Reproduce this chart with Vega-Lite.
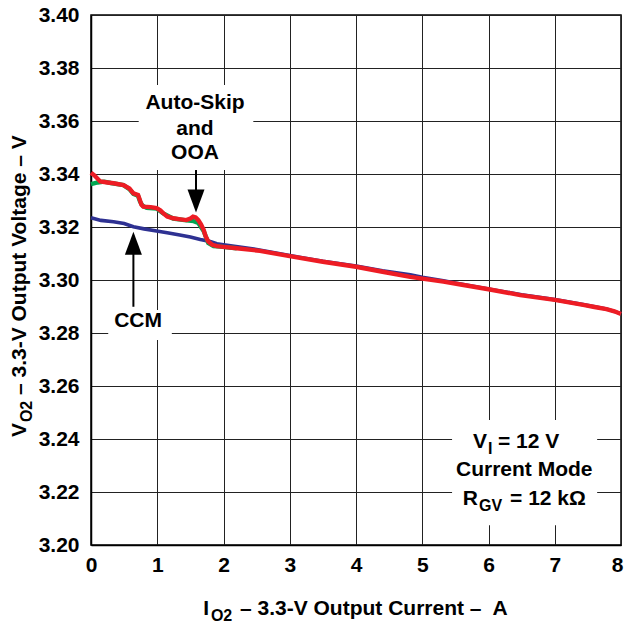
{
  "$schema": "https://vega.github.io/schema/vega-lite/v6.json",
  "width": 530,
  "height": 530,
  "autosize": {"type": "none"},
  "padding": {"left": 91, "top": 15, "right": 4, "bottom": 87},
  "background": "white",
  "config": {
    "view": {"stroke": "black", "strokeWidth": 1.5},
    "font": "Liberation Sans",
    "text": {"font": "Liberation Sans", "fontWeight": "bold", "fontSize": 21, "color": "black"}
  },
  "datasets": {
    "curves": [
      {"s": "CCM", "x": 0, "y": 3.3235},
      {"s": "CCM", "x": 0.15, "y": 3.3225},
      {"s": "CCM", "x": 0.34, "y": 3.322},
      {"s": "CCM", "x": 0.5, "y": 3.3213},
      {"s": "CCM", "x": 0.64, "y": 3.3201},
      {"s": "CCM", "x": 0.8, "y": 3.3193},
      {"s": "CCM", "x": 0.99, "y": 3.3185},
      {"s": "CCM", "x": 1.15, "y": 3.3178},
      {"s": "CCM", "x": 1.34, "y": 3.317},
      {"s": "CCM", "x": 1.5, "y": 3.3162},
      {"s": "CCM", "x": 1.65, "y": 3.3153},
      {"s": "CCM", "x": 1.8, "y": 3.3145},
      {"s": "CCM", "x": 1.9, "y": 3.3137},
      {"s": "CCM", "x": 2.0, "y": 3.3133},
      {"s": "CCM", "x": 2.5, "y": 3.3115},
      {"s": "CCM", "x": 3.0, "y": 3.3092},
      {"s": "CCM", "x": 3.5, "y": 3.3071},
      {"s": "CCM", "x": 4.0, "y": 3.3053},
      {"s": "CCM", "x": 4.4, "y": 3.3035},
      {"s": "CCM", "x": 4.82, "y": 3.302},
      {"s": "CCM", "x": 5.0, "y": 3.301},
      {"s": "CCM", "x": 5.32, "y": 3.2997},
      {"s": "CCM", "x": 5.6, "y": 3.2984},
      {"s": "CCM", "x": 6.0, "y": 3.2966},
      {"s": "CCM", "x": 6.5, "y": 3.2944},
      {"s": "CCM", "x": 7.0, "y": 3.2926},
      {"s": "CCM", "x": 7.43, "y": 3.2907},
      {"s": "CCM", "x": 7.78, "y": 3.2891},
      {"s": "CCM", "x": 8.0, "y": 3.2873},
      {"s": "Auto-Skip", "x": 0, "y": 3.3362},
      {"s": "Auto-Skip", "x": 0.1, "y": 3.3368},
      {"s": "Auto-Skip", "x": 0.2, "y": 3.3371},
      {"s": "Auto-Skip", "x": 0.3, "y": 3.3366},
      {"s": "Auto-Skip", "x": 0.49, "y": 3.3358},
      {"s": "Auto-Skip", "x": 0.58, "y": 3.3343},
      {"s": "Auto-Skip", "x": 0.64, "y": 3.3325},
      {"s": "Auto-Skip", "x": 0.71, "y": 3.3318},
      {"s": "Auto-Skip", "x": 0.74, "y": 3.3296},
      {"s": "Auto-Skip", "x": 0.78, "y": 3.328},
      {"s": "Auto-Skip", "x": 0.84, "y": 3.3272},
      {"s": "Auto-Skip", "x": 0.99, "y": 3.327},
      {"s": "Auto-Skip", "x": 1.09, "y": 3.3251},
      {"s": "Auto-Skip", "x": 1.24, "y": 3.3232},
      {"s": "Auto-Skip", "x": 1.44, "y": 3.3225},
      {"s": "Auto-Skip", "x": 1.55, "y": 3.3222},
      {"s": "Auto-Skip", "x": 1.62, "y": 3.3215},
      {"s": "Auto-Skip", "x": 1.7, "y": 3.3185},
      {"s": "Auto-Skip", "x": 1.77, "y": 3.314},
      {"s": "Auto-Skip", "x": 1.85, "y": 3.3128},
      {"s": "Auto-Skip", "x": 1.95, "y": 3.3126},
      {"s": "Auto-Skip", "x": 2.2, "y": 3.312},
      {"s": "OOA", "x": 0, "y": 3.3405},
      {"s": "OOA", "x": 0.05, "y": 3.3395},
      {"s": "OOA", "x": 0.14, "y": 3.3372},
      {"s": "OOA", "x": 0.25, "y": 3.3368},
      {"s": "OOA", "x": 0.34, "y": 3.3365},
      {"s": "OOA", "x": 0.49, "y": 3.3358},
      {"s": "OOA", "x": 0.58, "y": 3.3345},
      {"s": "OOA", "x": 0.64, "y": 3.3327},
      {"s": "OOA", "x": 0.71, "y": 3.3321},
      {"s": "OOA", "x": 0.74, "y": 3.33},
      {"s": "OOA", "x": 0.76, "y": 3.3285},
      {"s": "OOA", "x": 0.79, "y": 3.3277},
      {"s": "OOA", "x": 0.9, "y": 3.3275},
      {"s": "OOA", "x": 0.99, "y": 3.3271},
      {"s": "OOA", "x": 1.05, "y": 3.3262},
      {"s": "OOA", "x": 1.09, "y": 3.3252},
      {"s": "OOA", "x": 1.15, "y": 3.324},
      {"s": "OOA", "x": 1.24, "y": 3.3233},
      {"s": "OOA", "x": 1.35, "y": 3.3229},
      {"s": "OOA", "x": 1.44, "y": 3.3226},
      {"s": "OOA", "x": 1.5, "y": 3.3232},
      {"s": "OOA", "x": 1.54, "y": 3.3239},
      {"s": "OOA", "x": 1.58, "y": 3.3236},
      {"s": "OOA", "x": 1.62, "y": 3.3226},
      {"s": "OOA", "x": 1.66, "y": 3.321},
      {"s": "OOA", "x": 1.7, "y": 3.3189},
      {"s": "OOA", "x": 1.73, "y": 3.3165},
      {"s": "OOA", "x": 1.77, "y": 3.3145},
      {"s": "OOA", "x": 1.83, "y": 3.3133},
      {"s": "OOA", "x": 1.9, "y": 3.3128},
      {"s": "OOA", "x": 2.0, "y": 3.3125},
      {"s": "OOA", "x": 2.2, "y": 3.312},
      {"s": "OOA", "x": 2.55, "y": 3.311},
      {"s": "OOA", "x": 3.0, "y": 3.309},
      {"s": "OOA", "x": 3.5, "y": 3.3069},
      {"s": "OOA", "x": 4.0, "y": 3.305},
      {"s": "OOA", "x": 4.4, "y": 3.3031},
      {"s": "OOA", "x": 4.82, "y": 3.3012},
      {"s": "OOA", "x": 5.0, "y": 3.3005},
      {"s": "OOA", "x": 5.32, "y": 3.2994},
      {"s": "OOA", "x": 5.6, "y": 3.2982},
      {"s": "OOA", "x": 6.0, "y": 3.2965},
      {"s": "OOA", "x": 6.48, "y": 3.2943},
      {"s": "OOA", "x": 7.0, "y": 3.2925},
      {"s": "OOA", "x": 7.43, "y": 3.2906},
      {"s": "OOA", "x": 7.6, "y": 3.2898},
      {"s": "OOA", "x": 7.78, "y": 3.289},
      {"s": "OOA", "x": 7.9, "y": 3.2882},
      {"s": "OOA", "x": 8.0, "y": 3.2872}
    ],
    "boxes": [
      {"x": 0.72, "x2": 2.45, "y": 3.3736, "y2": 3.3415},
      {"x": 0.26, "x2": 1.22, "y": 3.2887, "y2": 3.2774},
      {"x": 5.45, "x2": 7.64, "y": 3.2472, "y2": 3.2075}
    ],
    "shafts": [
      {"x": 1.585, "y": 3.3415, "y2": 3.331},
      {"x": 0.64, "y": 3.3139, "y2": 3.2899}
    ],
    "heads": [
      {"x": 1.585, "y": 3.3298, "dir": "down"},
      {"x": 0.64, "y": 3.3139, "dir": "up"}
    ],
    "centered": [
      {"x": 1.57, "y": 3.3668, "t": "Auto-Skip"},
      {"x": 1.57, "y": 3.357, "t": "and"},
      {"x": 1.57, "y": 3.3479, "t": "OOA"},
      {"x": 0.71, "y": 3.2845, "t": "CCM"},
      {"x": 6.54, "y": 3.2283, "t": "Current Mode"}
    ],
    "mainletters": [
      {"x": 5.977, "y": 3.2389, "t": "V"},
      {"x": 5.842, "y": 3.2174, "t": "R"},
      {"x": 1.781, "y": 3.1757, "t": "I"}
    ],
    "subs": [
      {"x": 5.977, "y": 3.2389, "t": "I"},
      {"x": 5.842, "y": 3.2174, "t": "GV"},
      {"x": 1.795, "y": 3.1757, "t": "O2"}
    ],
    "rests": [
      {"x": 6.143, "y": 3.2389, "t": "= 12 V"},
      {"x": 6.325, "y": 3.2174, "t": "= 12 kΩ"},
      {"x": 2.249, "y": 3.1757, "t": "– 3.3-V Output Current –\u00a0 A"}
    ],
    "ymain": [{"x": -1.079, "y": 3.246, "t": "V"}],
    "ysub": [{"x": -1.079, "y": 3.246, "t": "O2"}],
    "yrest": [{"x": -1.079, "y": 3.2566, "t": "– 3.3-V Output Voltage – V"}]
  },
  "encoding": {
    "x": {
      "field": "x", "type": "quantitative",
      "scale": {"domain": [0, 8], "nice": false, "zero": false},
      "axis": {
        "title": null, "values": [0, 1, 2, 3, 4, 5, 6, 7, 8], "format": "d",
        "ticks": false, "labelPadding": 9, "labelFontSize": 21, "labelFontWeight": "bold",
        "labelFont": "Liberation Sans", "labelColor": "black",
        "labelOffset": {"condition": {"test": "datum.value == 8", "value": -4}, "value": 0},
        "domainColor": "black", "domainWidth": 1.5,
        "grid": true, "gridColor": "#222222", "gridWidth": 1, "labelFlush": false
      }
    },
    "y": {
      "field": "y", "type": "quantitative",
      "scale": {"domain": [3.2, 3.4], "nice": false, "zero": false},
      "axis": {
        "title": null, "values": [3.2, 3.22, 3.24, 3.26, 3.28, 3.3, 3.32, 3.34, 3.36, 3.38, 3.4], "format": ".2f",
        "ticks": false, "labelPadding": 12, "labelFontSize": 21, "labelFontWeight": "bold",
        "labelFont": "Liberation Sans", "labelColor": "black",
        "domainColor": "black", "domainWidth": 1.5,
        "grid": true, "gridColor": "#222222", "gridWidth": 1, "labelFlush": false
      }
    }
  },
  "layer": [
    {
      "data": {"name": "boxes"},
      "mark": {"type": "rect", "fill": "white", "stroke": null},
      "encoding": {"x2": {"field": "x2"}, "y2": {"field": "y2"}}
    },
    {
      "data": {"name": "curves"},
      "transform": [{"filter": "datum.s === 'CCM'"}],
      "mark": {"type": "line", "color": "#2E3192", "strokeWidth": 3.6},
      "encoding": {}
    },
    {
      "data": {"name": "curves"},
      "transform": [{"filter": "datum.s === 'Auto-Skip'"}],
      "mark": {"type": "line", "color": "#00A651", "strokeWidth": 4.4},
      "encoding": {}
    },
    {
      "data": {"name": "curves"},
      "transform": [{"filter": "datum.s === 'OOA'"}],
      "mark": {"type": "line", "color": "#ED1C24", "strokeWidth": 4.4},
      "encoding": {}
    },
    {
      "data": {"name": "shafts"},
      "mark": {"type": "rule", "color": "black", "strokeWidth": 2},
      "encoding": {"y2": {"field": "y2"}}
    },
    {
      "data": {"name": "heads"},
      "mark": {"type": "point", "filled": true, "color": "black", "opacity": 1, "size": 2116, "strokeWidth": 0},
      "encoding": {
        "shape": {
          "field": "dir", "type": "nominal", "legend": null,
          "scale": {"domain": ["down", "up"], "range": ["M-0.37,-0.5L0.37,-0.5L0,0.5Z", "M-0.37,0.5L0.37,0.5L0,-0.5Z"]}
        }
      }
    },
    {
      "data": {"name": "centered"},
      "mark": {"type": "text", "align": "center", "baseline": "middle"},
      "encoding": {"text": {"field": "t"}}
    },
    {
      "data": {"name": "mainletters"},
      "mark": {"type": "text", "align": "right", "baseline": "middle"},
      "encoding": {"text": {"field": "t"}}
    },
    {
      "data": {"name": "subs"},
      "mark": {"type": "text", "align": "left", "baseline": "middle", "fontSize": 16, "dx": 1, "dy": 7},
      "encoding": {"text": {"field": "t"}}
    },
    {
      "data": {"name": "rests"},
      "mark": {"type": "text", "align": "left", "baseline": "middle"},
      "encoding": {"text": {"field": "t"}}
    },
    {
      "data": {"name": "ymain"},
      "mark": {"type": "text", "align": "right", "baseline": "middle", "angle": 270},
      "encoding": {"text": {"field": "t"}}
    },
    {
      "data": {"name": "ysub"},
      "mark": {"type": "text", "align": "left", "baseline": "middle", "angle": 270, "fontSize": 16, "dx": 1, "dy": 7},
      "encoding": {"text": {"field": "t"}}
    },
    {
      "data": {"name": "yrest"},
      "mark": {"type": "text", "align": "left", "baseline": "middle", "angle": 270},
      "encoding": {"text": {"field": "t"}}
    }
  ]
}
